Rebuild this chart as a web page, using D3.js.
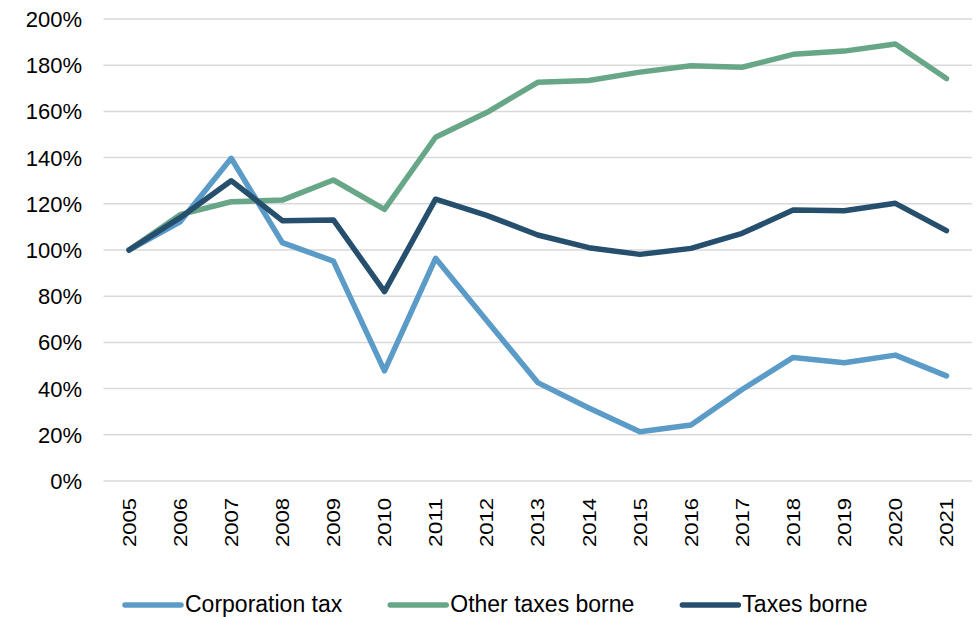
<!DOCTYPE html>
<html>
<head>
<meta charset="utf-8">
<script src="https://d3js.org/d3.v7.min.js"></script>
<style>
  html, body { margin: 0; padding: 0; background: #fff; }
  svg { display: block; font-family: "Liberation Sans", Arial, Helvetica, sans-serif; }
  .grid line { stroke: #d9d9d9; stroke-width: 1.5; }
  .series { fill: none; stroke-width: 5.5; stroke-linecap: round; stroke-linejoin: round; }
</style>
</head>
<body>
<div id="chart"></div>
<script>
// years on the x axis
const years = ["2005", "2006", "2007", "2008", "2009", "2010", "2011", "2012", "2013",
  "2014", "2015", "2016", "2017", "2018", "2019", "2020", "2021"];

// index values, 2005 = 100%
const corporationTax = [100, 112.2, 139.7, 103.2, 95.2, 47.7, 96.4, 69.5, 42.6,
  31.6, 21.3, 24.2, 39.6, 53.5, 51.2, 54.5, 45.5];
const otherTaxes = [100, 115.3, 120.9, 121.6, 130.3, 117.6, 148.8, 159.5, 172.6,
  173.4, 177.0, 179.8, 179.1, 184.7, 186.1, 189.2, 174.2];
const taxesBorne = [100, 114.0, 130.0, 112.7, 113.0, 82.0, 122.0, 115.0, 106.5,
  101.0, 98.1, 100.7, 107.2, 117.3, 117.0, 120.2, 108.4];

const yTicks = [0, 20, 40, 60, 80, 100, 120, 140, 160, 180, 200];

const seriesNames = ["Corporation tax", "Other taxes borne", "Taxes borne"];
const seriesColors = ["#5b9bc7", "#68a688", "#264f6e"];

const width = 977, height = 617;

const svg = d3.select("#chart").append("svg")
  .attr("width", width)
  .attr("height", height);

const x = d3.scalePoint()
  .domain(years)
  .range([103.5, 972])
  .padding(0.5);

const y = d3.scaleLinear()
  .domain([0, 200])
  .range([481, 19]);

// gridlines
svg.append("g").attr("class", "grid")
  .selectAll("line")
  .data(yTicks)
  .enter().append("line")
  .attr("x1", 103.5)
  .attr("x2", 972)
  .attr("y1", d => y(d))
  .attr("y2", d => y(d));

// y tick labels
svg.append("g")
  .selectAll("text")
  .data(yTicks)
  .enter().append("text")
  .attr("x", 82)
  .attr("y", d => y(d))
  .attr("dy", "0.36em")
  .attr("text-anchor", "end")
  .style("font-size", "22px")
  .style("fill", "#000")
  .text(d => d + "%");

// x labels, rotated
svg.append("g")
  .selectAll("text")
  .data(years)
  .enter().append("text")
  .attr("transform", d => `translate(${x(d)},498) rotate(-90)`)
  .attr("dy", "0.36em")
  .attr("text-anchor", "end")
  .attr("textLength", 49)
  .attr("lengthAdjust", "spacingAndGlyphs")
  .style("font-size", "18.5px")
  .style("fill", "#000")
  .text(d => d);

// lines
const line = d3.line()
  .x((d, i) => x(years[i]))
  .y(d => y(d));

const allSeries = [corporationTax, otherTaxes, taxesBorne];

svg.append("g")
  .selectAll("path")
  .data(allSeries)
  .enter().append("path")
  .attr("class", "series")
  .attr("d", d => line(d))
  .style("stroke", (d, i) => seriesColors[i]);

// legend
const legend = svg.append("g");
let lx = 125;
seriesNames.forEach((name, i) => {
  legend.append("line")
    .attr("x1", lx)
    .attr("x2", lx + 56)
    .attr("y1", 605)
    .attr("y2", 605)
    .style("stroke", seriesColors[i])
    .style("stroke-width", 5.5)
    .style("stroke-linecap", "round");
  const t = legend.append("text")
    .attr("x", lx + 60)
    .attr("y", 604)
    .attr("dy", "0.36em")
    .style("font-size", "23px")
    .style("fill", "#000")
    .text(name);
  lx += 60 + t.node().getComputedTextLength() + 48;
});
</script>
</body>
</html>
